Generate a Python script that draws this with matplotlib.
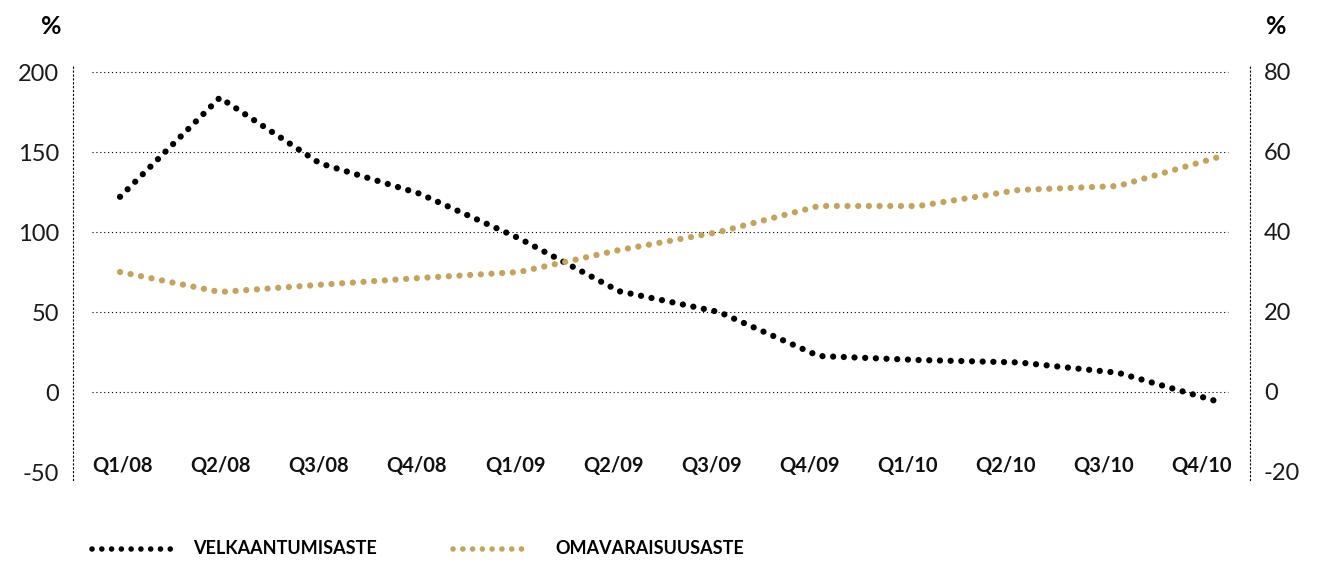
import matplotlib
matplotlib.use("Agg")
from matplotlib import pyplot as plt
from matplotlib.lines import Line2D

quarters = ["Q1/08", "Q2/08", "Q3/08", "Q4/08", "Q1/09", "Q2/09",
            "Q3/09", "Q4/09", "Q1/10", "Q2/10", "Q3/10", "Q4/10"]
velkaantumisaste = [122, 184, 143, 124, 96, 63, 50, 22.5, 20, 18.5, 12, -6]
omavaraisuusaste = [30, 25, 26.8, 28.5, 30, 35.5, 40, 46.5, 46.5, 50.5, 51.5, 58.7]
left_ticks = [-50, 0, 50, 100, 150, 200]
right_ticks = [-20, 0, 20, 40, 60, 80]

BLACK = "#000000"
GOLD = "#C4A35A"
DOTS = (0, (0.01, 1.7))

plt.rcParams["font.family"] = ["Lato", "DejaVu Sans"]

fig = plt.figure(figsize=(13.26, 5.63), dpi=100)
ax = fig.add_axes([73 / 1326, 83 / 563, 1177 / 1326, 415 / 563])
ax2 = ax.twinx()

x = list(range(len(quarters)))
ax.set_xlim(-0.471, 11.32)
ax.set_ylim(-55, 204.4)
ax2.set_ylim(-22, 81.75)

# grid lines (do not reach the spines)
for v in left_ticks[1:]:
    ax.axhline(v, xmin=19 / 1177, xmax=1155 / 1177, color=BLACK,
               linewidth=0.8, linestyle=(0, (1, 2.5)), zorder=1)

ax.plot(x, velkaantumisaste, color=BLACK, linewidth=4.5, linestyle=DOTS,
        dash_capstyle="round", zorder=3)
ax2.plot(x, omavaraisuusaste, color=GOLD, linewidth=4.5, linestyle=DOTS,
         dash_capstyle="round", zorder=3)

for a in (ax, ax2):
    for s in ("top", "bottom", "left", "right"):
        a.spines[s].set_visible(False)
    a.tick_params(length=0)
    a.set_xticks([])

ax.spines["left"].set_visible(True)
ax.spines["left"].set_linestyle((0, (1, 2.5)))
ax.spines["left"].set_linewidth(0.8)
ax2.spines["right"].set_visible(True)
ax2.spines["right"].set_linestyle((0, (1, 2.5)))
ax2.spines["right"].set_linewidth(0.8)

ax.set_yticks(left_ticks)
ax.set_yticklabels([str(t) for t in left_ticks], fontsize=17, color="#1a1a1a")
ax2.set_yticks(right_ticks)
ax2.set_yticklabels([str(t) for t in right_ticks], fontsize=17, color="#1a1a1a")
ax.tick_params(axis="y", pad=10)
ax2.tick_params(axis="y", pad=10)

for i, q in enumerate(quarters):
    ax.text(i * 0.983 + 0.025, -46, q, ha="center", va="center", fontsize=14.5,
            fontweight="bold", color="#111111")

fig.text(51 / 1326, 1 - 26 / 563, "%", ha="center", va="center",
         fontsize=18, fontweight="bold")
fig.text(1276 / 1326, 1 - 26 / 563, "%", ha="center", va="center",
         fontsize=18, fontweight="bold")

# legend
ly = 1 - 549 / 563
fig.add_artist(Line2D([92 / 1326, 171 / 1326], [ly, ly], color=BLACK,
                      linewidth=4.0, linestyle=(0, (0.01, 1.75)),
                      dash_capstyle="round", transform=fig.transFigure))
fig.text(193 / 1326, ly, "VELKAANTUMISASTE", ha="left", va="center",
         fontsize=13, fontweight="bold")
fig.add_artist(Line2D([453 / 1326, 531 / 1326], [ly, ly], color=GOLD,
                      linewidth=4.0, linestyle=(0, (0.01, 1.75)),
                      dash_capstyle="round", transform=fig.transFigure))
fig.text(555 / 1326, ly, "OMAVARAISUUSASTE", ha="left", va="center",
         fontsize=13, fontweight="bold")

fig.savefig("out.png", dpi=100)
